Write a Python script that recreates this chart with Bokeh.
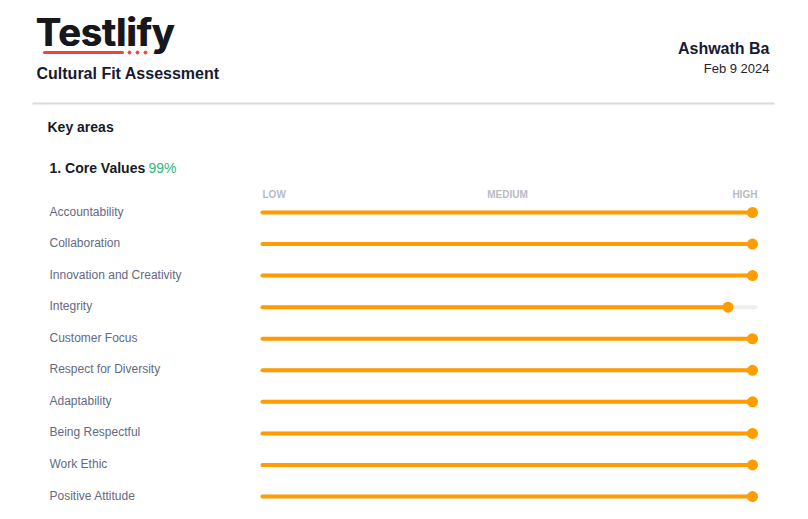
from bokeh.plotting import figure
from bokeh.models import Range1d, ColumnDataSource
from bokeh.core.properties import value
from bokeh.embed import file_html
from bokeh.resources import INLINE

# ---------------- data ----------------
traits = ["Accountability", "Collaboration", "Innovation and Creativity", "Integrity",
          "Customer Focus", "Respect for Diversity", "Adaptability", "Being Respectful",
          "Work Ethic", "Positive Attitude"]
scores = [100, 100, 100, 95, 100, 100, 100, 100, 100, 100]
scale_labels = ["LOW", "MEDIUM", "HIGH"]
scale_positions = [0, 50, 100]
section_title = "1. Core Values"
section_score = "99%"
brand = "Testlify"
report_title = "Cultural Fit Assessment"
candidate = "Ashwath Ba"
report_date = "Feb 9 2024"

# ---------------- layout helpers (screen px -> data units) ----------------
PX_PER_UNIT = 4.9     # horizontal pixels per score point
ROW_PX = 31.56        # vertical pixels per row
X0, Y0 = 262, 212     # screen position of score 0 / row 0
W, H = 792, 503

def X(sx):
    return (sx - X0) / PX_PER_UNIT

def Y(sy):
    return (sy - Y0) / ROW_PX

p = figure(width=W, height=H, output_backend="svg", toolbar_location=None,
           x_range=Range1d(X(0), X(W)), y_range=Range1d(Y(H), Y(0)),
           min_border=0, min_border_left=0, min_border_right=0,
           min_border_top=0, min_border_bottom=0)
p.axis.visible = False
p.grid.visible = False
p.outline_line_color = None
p.background_fill_color = "white"
p.border_fill_color = "white"

SANS = value("Liberation Sans")

def txt(x, y, s, size, color, style="normal", align="left", baseline="middle",
        font=SANS, x_offset=0):
    p.text(x=[x], y=[y], text=[s], text_font=font, text_font_size=f"{size}px",
           text_color=color, text_font_style=style, text_align=align,
           text_baseline=baseline, x_offset=x_offset)

# ---------------- header ----------------
for dx in (0, 0.8):
    txt(X(35), Y(31), brand, 38, "#16181d", style="bold", font=value("Inter"), x_offset=dx)
p.segment(x0=[X(44)], y0=[Y(52)], x1=[X(122)], y1=[Y(52)], line_color="#f0433f",
          line_width=3, line_cap="round")
p.scatter(x=[X(129), X(137), X(145)], y=[Y(52)] * 3, size=3, color="#f0433f")
txt(X(36), Y(73), report_title, 16, "#161a33", style="bold")
txt(X(769), Y(48), candidate, 16, "#161a33", style="bold", align="right")
txt(X(769), Y(68), report_date, 13, "#222630", align="right")
p.segment(x0=[X(32)], y0=[Y(103)], x1=[X(774)], y1=[Y(103)], line_color="#d6d9e1", line_width=2)

txt(X(47), Y(126), "Key areas", 14, "#161a25", style="bold")
txt(X(49), Y(167), section_title, 14, "#161a25", style="bold")
txt(X(148), Y(167), section_score, 14, "#2fb67f")

# scale labels
aligns = ["left", "center", "right"]
offs = [0, 0, 1]
for lab, pos, al, o in zip(scale_labels, scale_positions, aligns, offs):
    txt(pos + o, Y(193.5), lab, 10, "#b7bbc6", style="bold", align=al)

# ---------------- bars ----------------
rows = list(range(len(traits)))
src = ColumnDataSource(dict(y=rows, score=scores, zero=[0] * len(rows),
                            full=[100.6] * len(rows), label=traits))
p.segment(x0="zero", y0="y", x1="full", y1="y", source=src, line_color="#eeeeee",
          line_width=4, line_cap="round")
p.segment(x0="zero", y0="y", x1="score", y1="y", source=src, line_color="#ff9c00",
          line_width=4, line_cap="round")
p.scatter(x="score", y="y", source=src, size=11, fill_color="#ff9c00", line_color=None)
p.text(x=X(49), y="y", text="label", source=src, text_font=SANS, text_font_size="12px",
       text_color="#646a82", text_align="left", text_baseline="bottom", y_offset=6)

open("out.html", "w").write(file_html(p, INLINE))
